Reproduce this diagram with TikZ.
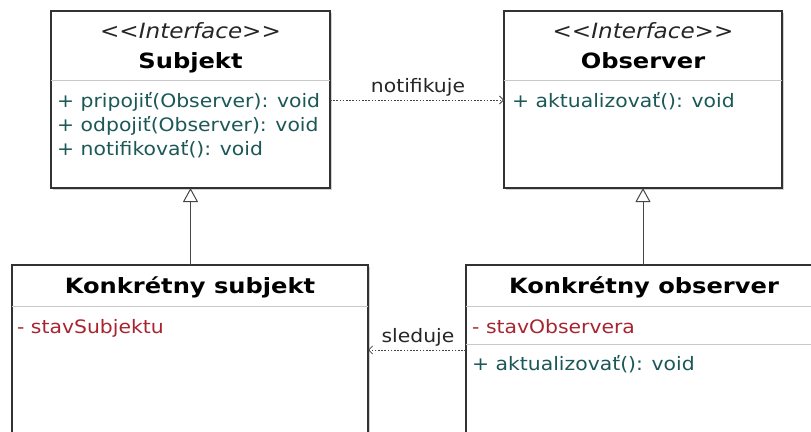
\documentclass[tikz,border=0pt]{standalone}
\usepackage{fontspec}
\newfontfamily\umlfont{DejaVu Sans}[FakeStretch=1.1]
\newfontfamily\umlbold{DejaVu Sans}[FakeStretch=1.15]
\usetikzlibrary{arrows.meta,shadows}

\definecolor{optxt}{RGB}{28,88,88}
\definecolor{attrtxt}{RGB}{168,36,48}
\definecolor{frame}{RGB}{50,50,50}
\definecolor{sepline}{RGB}{200,200,200}
\definecolor{linkcol}{RGB}{70,70,70}

\begin{document}
\begin{tikzpicture}[x=1pt,y=-1pt,
  font=\umlfont\fontsize{18.5}{22}\selectfont,
  umlbox/.style={draw=frame, line width=1.1pt, fill=white, anchor=north west,
    inner sep=0pt, outer sep=0pt,
    drop shadow={shadow xshift=2pt, shadow yshift=-2pt, opacity=0.3, fill=black!60}},
  stereo/.style={font=\umlfont\itshape\fontsize{21}{25}\selectfont, anchor=base, text=black!85},
  cname/.style={font=\umlbold\bfseries\fontsize{21}{25}\selectfont, anchor=base},
  member/.style={anchor=base west, inner sep=0pt},
  oper/.style={member, text=optxt},
  attr/.style={member, text=attrtxt},
  sep/.style={draw=sepline, line width=1pt},
  dep/.style={draw=linkcol, line width=0.9pt, dash pattern=on 1.6pt off 1.6pt,
    -{Straight Barb[length=4pt, width=8pt, line width=0.8pt]}},
  gen/.style={draw=linkcol, line width=1pt,
    -{Triangle[open, length=14pt, width=15pt, line width=1pt, fill=white]}},
  lbl/.style={anchor=base, inner sep=0pt, text=black!85},
]
\useasboundingbox (0,0) rectangle (811,431);
\clip (0,0) rectangle (811,431);

% interface Subjekt
\node[umlbox, minimum width=279pt, minimum height=177pt] (subj) at (51,11) {};
\node[stereo] (subjst) at (190.5,38) {<<Interface>>};
\node[cname] (subjnm) at (190.5,68) {Subjekt};
\draw[sep] (subj.west |- 0,80) -- (subj.east |- 0,80);
\node[oper] (sm1) at (57,107) {+ pripojiť(Observer): void};
\node[oper] (sm2) at (57,131) {+ odpojiť(Observer): void};
\node[oper] (sm3) at (57,155) {+ notifikovať(): void};

% interface Observer
\node[umlbox, minimum width=278pt, minimum height=177pt] (obs) at (504,11) {};
\node[stereo] (obsst) at (643,38) {<<Interface>>};
\node[cname] (obsnm) at (643,68) {Observer};
\draw[sep] (obs.west |- 0,80) -- (obs.east |- 0,80);
\node[oper] (om1) at (512,107) {+ aktualizovať(): void};

% concrete subject
\node[umlbox, minimum width=356pt, minimum height=190pt] (ks) at (12,265) {};
\node[cname] (ksnm) at (190,293) {Konkrétny subjekt};
\draw[sep] (ks.west |- 0,306) -- (ks.east |- 0,306);
\node[attr] (ksa1) at (17,333) {- stavSubjektu};

% concrete observer
\node[umlbox, minimum width=360pt, minimum height=190pt] (ko) at (466,265) {};
\node[cname] (konm) at (644,293) {Konkrétny observer};
\draw[sep] (ko.west |- 0,306) -- (ko.east |- 0,306);
\node[attr] (koa1) at (472,333) {- stavObservera};
\draw[sep] (ko.west |- 0,344) -- (ko.east |- 0,344);
\node[oper] (kom1) at (472,370) {+ aktualizovať(): void};

% generalizations
\draw[gen] (ks.north -| subj.south) -- (subj.south);
\draw[gen] (ko.north -| obs.south) -- (obs.south);

% dependencies
\coordinate (notifyy) at (0,100);
\coordinate (watchy) at (0,350);
\draw[dep] (subj.east |- notifyy) -- (obs.west |- notifyy);
\node[lbl] (notifylbl) at (418,92) {notifikuje};
\draw[dep] (ko.west |- watchy) -- (ks.east |- watchy);
\node[lbl] (watchlbl) at (418,342) {sleduje};
\end{tikzpicture}
\end{document}
